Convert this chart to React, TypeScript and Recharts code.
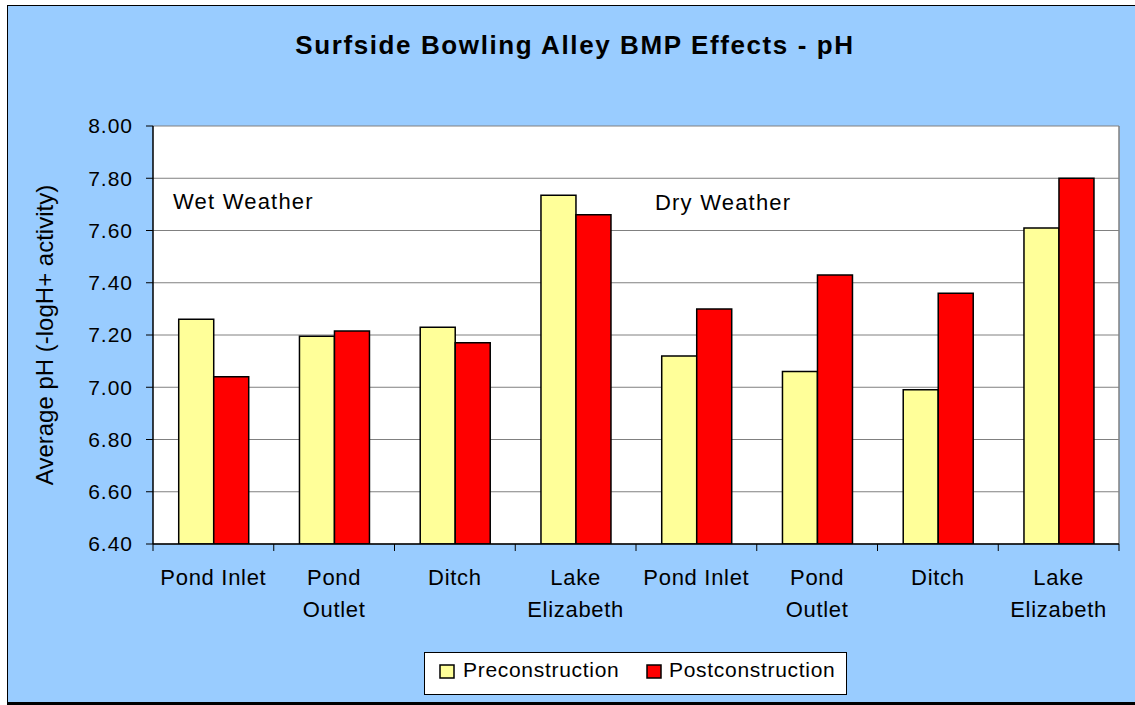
import React from 'react';
import { BarChart, Bar, XAxis, YAxis, CartesianGrid } from 'recharts';

const categoryKeys = [
  'Wet Pond Inlet', 'Wet Pond Outlet', 'Wet Ditch', 'Wet Lake Elizabeth',
  'Dry Pond Inlet', 'Dry Pond Outlet', 'Dry Ditch', 'Dry Lake Elizabeth',
];
const tickLabels = [
  ['Pond Inlet'], ['Pond', 'Outlet'], ['Ditch'], ['Lake', 'Elizabeth'],
  ['Pond Inlet'], ['Pond', 'Outlet'], ['Ditch'], ['Lake', 'Elizabeth'],
];
const preconstruction = [7.26, 7.195, 7.23, 7.735, 7.12, 7.06, 6.99, 7.61];
const postconstruction = [7.04, 7.215, 7.17, 7.66, 7.30, 7.43, 7.36, 7.80];
const yTicks = [6.4, 6.6, 6.8, 7.0, 7.2, 7.4, 7.6, 7.8, 8.0];
const seriesNames = ['Preconstruction', 'Postconstruction'];
const seriesColors = ['#FFFF99', '#FF0000'];
const titleText = 'Surfside Bowling Alley BMP Effects - pH';
const yAxisTitle = 'Average pH (-logH+ activity)';
const annotations = ['Wet Weather', 'Dry Weather'];

const data = categoryKeys.map((k, i) => ({
  key: k,
  pre: preconstruction[i],
  post: postconstruction[i],
}));

const FONT = '"Liberation Sans", Arial, Helvetica, sans-serif';

const XTick = (props: any) => {
  const { x, y, payload, index } = props;
  const half = payload && typeof payload.offset === 'number' && payload.offset > 0 ? payload.offset : 60.4;
  const lines = tickLabels[index] || [String(payload?.value ?? '')];
  return (
    <g>
      <line x1={x - half} y1={y} x2={x - half} y2={y + 7} stroke="#000" strokeWidth={1} />
      {index === categoryKeys.length - 1 && (
        <line x1={x + half} y1={y} x2={x + half} y2={y + 7} stroke="#000" strokeWidth={1} />
      )}
      <text x={x} y={y} textAnchor="middle" fontSize={22} letterSpacing={0.7} fill="#000" fontFamily={FONT}>
        {lines.map((l: string, i: number) => (
          <tspan key={i} x={x} dy={i === 0 ? 41 : 32}>{l}</tspan>
        ))}
      </text>
    </g>
  );
};

export default function App() {
  return (
    <div style={{ position: 'absolute', left: 0, top: 0, width: 1135, height: 705, overflow: 'hidden', background: '#fff', fontFamily: FONT }}>
      <div
        style={{
          position: 'absolute', left: 7, top: 5, width: 1150, height: 700,
          background: '#99CCFF', borderLeft: '1px solid #000', borderTop: '1px solid #000',
          borderBottom: '3px solid #000', boxSizing: 'border-box',
        }}
      />
      <div style={{ position: 'absolute', left: 0, top: 0 }}>
        <BarChart
          width={1135}
          height={705}
          data={data}
          margin={{ top: 126, right: 16, left: 0, bottom: 0 }}
          barCategoryGap="21.3%"
          barGap={0}
          style={{ fontFamily: FONT }}
        >
          <CartesianGrid vertical={false} stroke="#808080" strokeWidth={1} fill="#ffffff" fillOpacity={1} />
          <CartesianGrid
            horizontal={false}
            stroke="#808080"
            strokeWidth={1.5}
            verticalCoordinatesGenerator={({ offset }: any) => [offset.left + offset.width]}
          />
          <XAxis
            dataKey="key"
            height={161}
            tickLine={false}
            tickSize={0}
            tickMargin={0}
            axisLine={{ stroke: '#000', strokeWidth: 1.5 }}
            tick={<XTick />}
            interval={0}
          />
          <YAxis
            width={153}
            domain={[6.4, 8.0]}
            ticks={yTicks}
            allowDataOverflow
            interval={0}
            tickSize={7}
            tickMargin={13}
            tickLine={{ stroke: '#000' }}
            axisLine={{ stroke: '#000', strokeWidth: 1.5 }}
            tickFormatter={(v: number) => v.toFixed(2)}
            tick={{ fontSize: 21, fill: '#000', letterSpacing: 1, fontFamily: FONT }}
          />
          <Bar dataKey="pre" name={seriesNames[0]} fill={seriesColors[0]} stroke="#000" strokeWidth={1.5} isAnimationActive={false} />
          <Bar dataKey="post" name={seriesNames[1]} fill={seriesColors[1]} stroke="#000" strokeWidth={1.5} isAnimationActive={false} />
          <text x={575} y={54} textAnchor="middle" fontWeight="bold" fontSize={26} letterSpacing={1.6} fill="#000" fontFamily={FONT}>
            {titleText}
          </text>
          <text x={53} y={335} transform="rotate(-90, 53, 335)" textAnchor="middle" fontSize={24} fill="#000" fontFamily={FONT}>
            {yAxisTitle}
          </text>
          <text x={173} y={209} fontSize={22} letterSpacing={1.2} fill="#000" fontFamily={FONT}>{annotations[0]}</text>
          <text x={655} y={210} fontSize={22} letterSpacing={1.2} fill="#000" fontFamily={FONT}>{annotations[1]}</text>
        </BarChart>
      </div>
      <svg style={{ position: 'absolute', left: 424, top: 652 }} width={423} height={43}>
        <rect x={0.5} y={0.5} width={422} height={42} fill="#fff" stroke="#000" strokeWidth={1} />
        <rect x={16} y={13} width={14} height={13} fill={seriesColors[0]} stroke="#000" strokeWidth={1.5} />
        <text x={39} y={25} fontSize={21} letterSpacing={0.7} fill="#000" fontFamily={FONT}>{seriesNames[0]}</text>
        <rect x={223} y={13} width={14} height={13} fill={seriesColors[1]} stroke="#000" strokeWidth={1.5} />
        <text x={245} y={25} fontSize={21} letterSpacing={0.7} fill="#000" fontFamily={FONT}>{seriesNames[1]}</text>
      </svg>
    </div>
  );
}
